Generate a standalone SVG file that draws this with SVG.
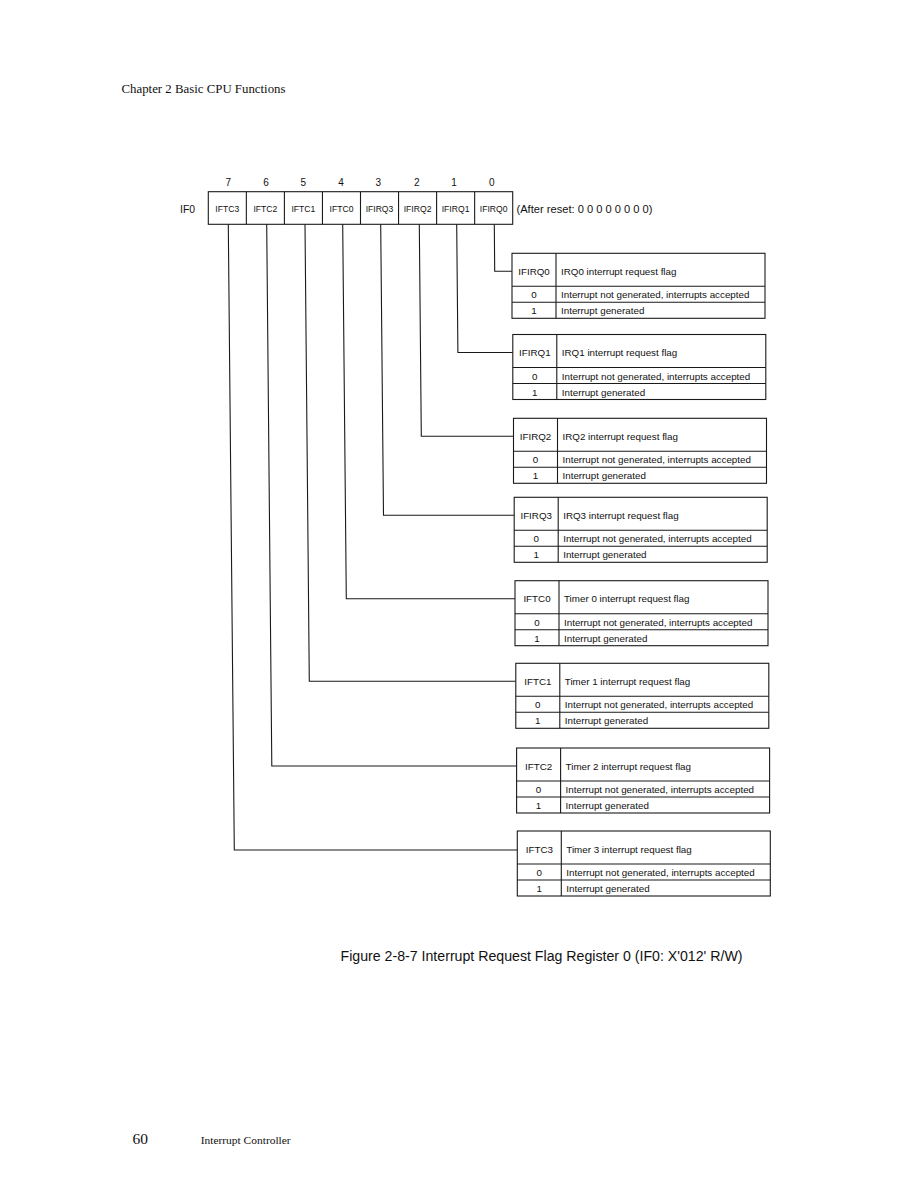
<svg xmlns="http://www.w3.org/2000/svg" width="918" height="1188" viewBox="0 0 918 1188">
<style>
.ln{fill:none;stroke:#1a1a1a;stroke-width:1.1}
.bx{fill:#fff;stroke:#1a1a1a;stroke-width:1.1}
.s{font-family:"Liberation Sans",Arial,sans-serif;fill:#111}
.t{font-size:9.8px}
.c{text-anchor:middle}
.r{font-size:8.6px}
.n{font-size:10px}
.serif{font-family:"Liberation Serif","Times New Roman",serif;fill:#111}
</style>
<rect width="918" height="1188" fill="#fff"/>
<text class="serif" x="121.5" y="92.5" font-size="12.6" textLength="164" lengthAdjust="spacingAndGlyphs">Chapter 2  Basic CPU Functions</text>

<g id="register">
<g class="s n c">
<text x="228.3" y="185.7">7</text><text x="266" y="185.7">6</text><text x="303.3" y="185.7">5</text><text x="341" y="185.7">4</text>
<text x="378.3" y="185.7">3</text><text x="416.7" y="185.7">2</text><text x="454" y="185.7">1</text><text x="491.7" y="185.7">0</text>
</g>
<text class="s" x="180" y="212.5" font-size="10.4">IF0</text>
<rect class="bx" x="208.3" y="191.7" width="304.4" height="32.6"/>
<path class="ln" d="M246.35 191.7V224.3M284.4 191.7V224.3M322.45 191.7V224.3M360.5 191.7V224.3M398.55 191.7V224.3M436.6 191.7V224.3M474.65 191.7V224.3"/>
<g class="s r c">
<text x="227.3" y="211.5">IFTC3</text><text x="265.4" y="211.5">IFTC2</text><text x="303.4" y="211.5">IFTC1</text><text x="341.5" y="211.5">IFTC0</text>
<text x="379.5" y="211.5">IFIRQ3</text><text x="417.6" y="211.5">IFIRQ2</text><text x="455.6" y="211.5">IFIRQ1</text><text x="493.7" y="211.5">IFIRQ0</text>
</g>
<text class="s" x="516.5" y="212.5" font-size="10.8" textLength="136" lengthAdjust="spacingAndGlyphs">(After reset: 0 0 0 0 0 0 0 0)</text>
</g>

<g id="connectors">
<polyline class="ln" points="494.3,224.3 494.7,271.3 512,271.3"/>
<polyline class="ln" points="456.7,224.3 457.9,352.5 512.8,352.5"/>
<polyline class="ln" points="419.3,224.3 421.3,436.3 513.5,436.3"/>
<polyline class="ln" points="380.7,224.3 383.5,515.3 514.2,515.3"/>
<polyline class="ln" points="342.7,224.3 346.3,598.7 515,598.7"/>
<polyline class="ln" points="305,224.3 309.3,681.3 515.8,681.3"/>
<polyline class="ln" points="266.7,224.3 271.8,766 516.6,766"/>
<polyline class="ln" points="228.3,224.3 234.3,850 517.3,850"/>
</g>

<g id="tbl-IFIRQ0" transform="translate(512,253.3)">
<rect class="bx" width="253" height="65"/>
<path class="ln" d="M0 33H253M0 49H253M44 0V65"/>
<g class="s t"><text class="c" x="22" y="21.5">IFIRQ0</text><text x="49" y="21.5">IRQ0 interrupt request flag</text>
<text class="c" x="22" y="45">0</text><text x="49" y="45">Interrupt not generated, interrupts accepted</text>
<text class="c" x="22" y="61">1</text><text x="49" y="61">Interrupt generated</text></g>
</g>
<g id="tbl-IFIRQ1" transform="translate(512.8,334.5)">
<rect class="bx" width="253" height="65"/>
<path class="ln" d="M0 33H253M0 49H253M44 0V65"/>
<g class="s t"><text class="c" x="22" y="21.5">IFIRQ1</text><text x="49" y="21.5">IRQ1 interrupt request flag</text>
<text class="c" x="22" y="45">0</text><text x="49" y="45">Interrupt not generated, interrupts accepted</text>
<text class="c" x="22" y="61">1</text><text x="49" y="61">Interrupt generated</text></g>
</g>
<g id="tbl-IFIRQ2" transform="translate(513.5,418.3)">
<rect class="bx" width="253" height="65"/>
<path class="ln" d="M0 33H253M0 49H253M44 0V65"/>
<g class="s t"><text class="c" x="22" y="21.5">IFIRQ2</text><text x="49" y="21.5">IRQ2 interrupt request flag</text>
<text class="c" x="22" y="45">0</text><text x="49" y="45">Interrupt not generated, interrupts accepted</text>
<text class="c" x="22" y="61">1</text><text x="49" y="61">Interrupt generated</text></g>
</g>
<g id="tbl-IFIRQ3" transform="translate(514.2,497.3)">
<rect class="bx" width="253" height="65"/>
<path class="ln" d="M0 33H253M0 49H253M44 0V65"/>
<g class="s t"><text class="c" x="22" y="21.5">IFIRQ3</text><text x="49" y="21.5">IRQ3 interrupt request flag</text>
<text class="c" x="22" y="45">0</text><text x="49" y="45">Interrupt not generated, interrupts accepted</text>
<text class="c" x="22" y="61">1</text><text x="49" y="61">Interrupt generated</text></g>
</g>
<g id="tbl-IFTC0" transform="translate(515,580.7)">
<rect class="bx" width="253" height="65"/>
<path class="ln" d="M0 33H253M0 49H253M44 0V65"/>
<g class="s t"><text class="c" x="22" y="21.5">IFTC0</text><text x="49" y="21.5">Timer 0 interrupt request flag</text>
<text class="c" x="22" y="45">0</text><text x="49" y="45">Interrupt not generated, interrupts accepted</text>
<text class="c" x="22" y="61">1</text><text x="49" y="61">Interrupt generated</text></g>
</g>
<g id="tbl-IFTC1" transform="translate(515.8,663.3)">
<rect class="bx" width="253" height="65"/>
<path class="ln" d="M0 33H253M0 49H253M44 0V65"/>
<g class="s t"><text class="c" x="22" y="21.5">IFTC1</text><text x="49" y="21.5">Timer 1 interrupt request flag</text>
<text class="c" x="22" y="45">0</text><text x="49" y="45">Interrupt not generated, interrupts accepted</text>
<text class="c" x="22" y="61">1</text><text x="49" y="61">Interrupt generated</text></g>
</g>
<g id="tbl-IFTC2" transform="translate(516.6,748)">
<rect class="bx" width="253" height="65"/>
<path class="ln" d="M0 33H253M0 49H253M44 0V65"/>
<g class="s t"><text class="c" x="22" y="21.5">IFTC2</text><text x="49" y="21.5">Timer 2 interrupt request flag</text>
<text class="c" x="22" y="45">0</text><text x="49" y="45">Interrupt not generated, interrupts accepted</text>
<text class="c" x="22" y="61">1</text><text x="49" y="61">Interrupt generated</text></g>
</g>
<g id="tbl-IFTC3" transform="translate(517.3,831)">
<rect class="bx" width="253" height="65"/>
<path class="ln" d="M0 33H253M0 49H253M44 0V65"/>
<g class="s t"><text class="c" x="22" y="21.5">IFTC3</text><text x="49" y="21.5">Timer 3 interrupt request flag</text>
<text class="c" x="22" y="45">0</text><text x="49" y="45">Interrupt not generated, interrupts accepted</text>
<text class="c" x="22" y="61">1</text><text x="49" y="61">Interrupt generated</text></g>
</g>

<text class="s" x="340.5" y="960.5" font-size="14" textLength="402" lengthAdjust="spacingAndGlyphs">Figure 2-8-7  Interrupt Request Flag Register 0 (IF0: X'012' R/W)</text>
<text class="serif" x="132.5" y="1143.5" font-size="15.5">60</text>
<text class="serif" x="200.7" y="1143.5" font-size="11.3" textLength="90" lengthAdjust="spacingAndGlyphs">Interrupt Controller</text>
</svg>
